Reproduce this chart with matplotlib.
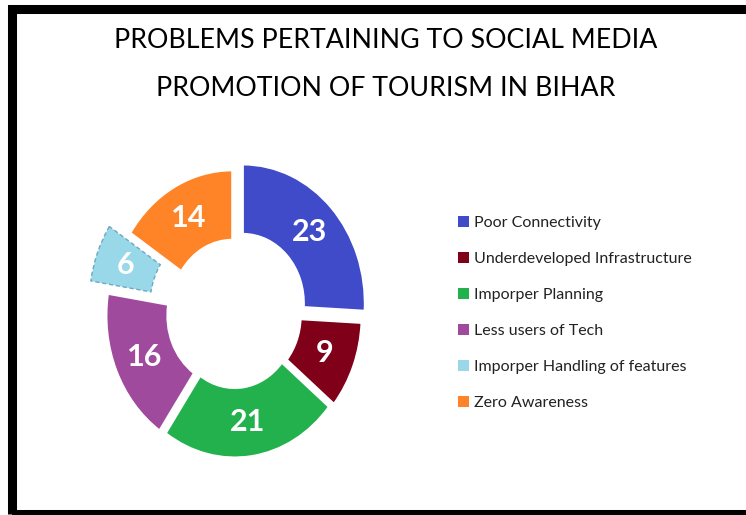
import matplotlib.pyplot as plt
from matplotlib.patches import Rectangle

# Survey counts per problem
labels = ["Poor Connectivity", "Underdeveloped Infrastructure", "Imporper Planning",
          "Less users of Tech", "Imporper Handling of features", "Zero Awareness"]
counts = [23, 9, 21, 16, 6, 14]
colors = ["#3F4BC8", "#80001A", "#22B14C", "#A04A9E", "#98D8E8", "#FF8427"]
explode = [0.1, 0.05, 0.04, 0.05, 0.2, 0.03]

W, H = 746, 515
fig = plt.figure(figsize=(W / 100, H / 100), dpi=100)
fig.patch.set_facecolor("white")

# donut is slightly taller than wide
cx, cy, rx, ry = 234, 313, 122, 139
ax = fig.add_axes([(cx - 1.25 * rx) / W, (H - cy - 1.25 * ry) / H,
                   2.5 * rx / W, 2.5 * ry / H])

wedges, texts, autotexts = ax.pie(
    counts, colors=colors, explode=explode, startangle=90, counterclock=False,
    radius=1.0, autopct=lambda p: f"{round(p * sum(counts) / 100):d}",
    pctdistance=0.75,
    wedgeprops=dict(width=0.5, edgecolor="white", linewidth=1.5),
    textprops=dict(color="white", fontsize=22, fontweight="bold", family="Lato"))
ax.set_aspect("auto")
ax.set_xlim(-1.25, 1.25)
ax.set_ylim(-1.25, 1.25)

# the small slice gets a dashed outline
wedges[4].set_edgecolor("#6FA8BF")
wedges[4].set_linestyle((0, (3, 2)))
wedges[4].set_linewidth(1.0)

fig.text(386 / W, 1 - 41 / H, "PROBLEMS PERTAINING TO SOCIAL MEDIA",
         ha="center", va="center", fontsize=19.3, family="Lato", color="black")
fig.text(386 / W, 1 - 88 / H, "PROMOTION OF TOURISM IN BIHAR",
         ha="center", va="center", fontsize=19.3, family="Lato", color="black")

leg = fig.legend(wedges, labels, loc="upper left",
                 bbox_to_anchor=(444 / W, 1 - 202 / H), frameon=False,
                 handlelength=0.65, handleheight=0.65, handletextpad=0.3,
                 labelspacing=1.37, prop=dict(family="Lato", size=11.5))
for h in leg.legend_handles:
    h.set_edgecolor("none")
    h.set_linestyle("solid")
for t in leg.get_texts():
    t.set_color("#222222")

# black frame around the chart area
fig.add_artist(Rectangle((12 / W, 1 - 514 / H), 760 / W, 505.5 / H,
                         transform=fig.transFigure, fill=False,
                         edgecolor="black", linewidth=6.5))

fig.savefig("out.png", dpi=100)
